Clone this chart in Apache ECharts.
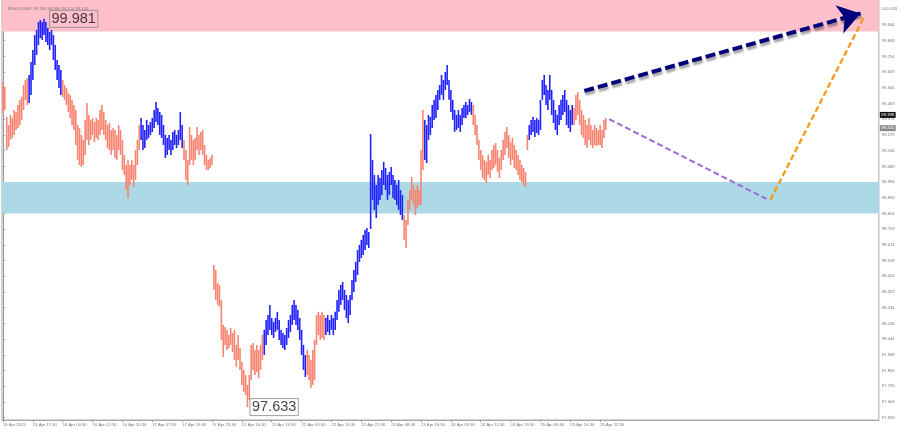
<!DOCTYPE html>
<html>
<head>
<meta charset="utf-8">
<script src="https://cdn.jsdelivr.net/npm/echarts@6/dist/echarts.min.js"></script>
<style>html,body{margin:0;padding:0;background:#fff;}#chart{width:900px;height:431px;}</style>
</head>
<body>
<div id="chart"></div>
<script>
const chartTitle = "$USDX,M30  99.350 99.380 99.310 99.320";
const xTickLabels = ["15 Apr 2025","15 Apr 17:30","16 Apr 04:30","16 Apr 12:30","16 Apr 20:30","17 Apr 07:30","17 Apr 15:30","17 Apr 23:30","21 Apr 10:30","21 Apr 18:30","22 Apr 05:30","22 Apr 13:30","22 Apr 21:30","23 Apr 08:30","23 Apr 16:30","24 Apr 03:30","24 Apr 11:30","24 Apr 19:30","25 Apr 06:30","25 Apr 14:30","25 Apr 22:30"];
const barsPerLabel = 16;
const yTickValues = [100.039,99.944,99.849,99.754,99.659,99.564,99.469,99.374,99.279,99.184,99.089,98.994,98.899,98.804,98.709,98.614,98.519,98.424,98.329,98.234,98.139,98.044,97.949,97.854,97.759,97.664,97.569];

const highs = [
99.599,99.569,99.388,99.339,99.400,99.381,99.430,99.418,99.460,99.491,99.509,99.581,99.611,99.623,
99.641,99.720,99.793,99.883,99.914,99.962,99.974,99.962,99.981,99.962,99.926,99.902,99.914,99.883,99.823,99.732,99.702,99.672,
99.611,99.581,99.563,99.533,99.521,99.491,99.460,99.430,99.339,99.321,99.279,99.249,99.370,99.472,99.400,99.370,99.381,99.357,99.381,99.370,99.430,99.460,99.418,99.370,99.339,99.351,99.309,99.321,99.309,99.279,99.339,99.309,99.249,99.158,99.097,99.128,99.097,99.128,99.097,99.188,99.249,99.339,
99.381,99.339,99.309,99.370,99.339,99.357,99.381,99.430,99.478,99.442,99.418,99.400,99.339,99.279,99.261,99.279,99.249,99.297,99.309,99.279,99.309,99.418,99.339,
99.249,99.188,99.128,99.327,99.279,99.249,99.261,99.327,99.279,99.297,99.309,99.218,99.158,99.128,99.140,99.158,
98.493,98.462,98.384,98.372,98.281,98.130,98.118,98.100,98.069,98.112,98.081,98.100,98.009,98.069,97.991,97.906,97.858,97.827,97.767,97.827,98.009,98.021,97.979,98.009,97.979,98.009,98.069,
98.100,98.160,98.190,98.251,98.172,98.148,98.172,98.209,98.160,98.100,98.081,98.069,98.112,98.160,98.190,98.251,98.281,98.251,98.221,98.172,98.100,98.009,97.948,
97.979,97.948,97.918,97.979,98.039,98.190,98.209,98.190,98.209,98.190,
98.172,98.190,98.160,98.190,98.172,98.209,98.281,98.342,98.372,98.390,98.342,98.311,98.281,98.311,98.402,98.462,98.511,98.583,98.614,98.644,98.674,98.704,98.716,98.692,
99.285,99.128,99.037,98.976,99.037,99.019,99.067,99.116,99.079,99.037,99.055,99.085,99.037,99.007,98.976,99.007,98.946,98.916,
98.795,98.765,98.886,98.946,99.025,98.976,98.946,98.976,98.946,99.188,99.430,
99.370,99.339,99.400,99.388,99.460,99.491,99.521,99.551,99.581,99.642,99.611,99.660,99.702,99.611,99.551,99.491,99.430,99.400,99.430,99.400,99.442,99.460,99.478,99.460,99.496,99.478,
99.460,99.400,99.339,99.249,99.188,99.158,99.128,99.116,99.158,99.128,99.188,99.218,99.230,99.188,99.140,99.188,99.249,99.297,99.327,99.279,99.236,99.261,99.218,99.188,99.158,99.128,99.097,99.079,99.055,99.279,
99.339,99.370,99.388,99.370,99.381,99.370,99.491,99.611,99.642,99.581,99.551,99.642,99.551,99.491,99.430,99.400,99.460,99.491,99.521,99.551,99.491,99.460,99.430,99.460,
99.442,99.521,99.539,99.491,99.430,99.400,99.370,99.339,99.381,99.339,99.309,99.339,99.321,99.309,99.339,99.309,99.370,99.381
];
const lows = [
99.412,99.430,99.188,99.206,99.249,99.261,99.279,99.309,99.321,99.339,99.370,99.430,99.491,99.460,
99.472,99.521,99.611,99.702,99.763,99.823,99.865,99.853,99.884,99.841,99.823,99.793,99.823,99.732,99.672,99.611,99.563,99.521,
99.508,99.491,99.460,99.418,99.381,99.339,99.309,99.218,99.128,99.097,99.085,99.097,99.158,99.249,99.218,99.249,99.279,99.236,99.261,99.249,99.279,99.309,99.279,99.249,99.200,99.188,99.158,99.188,99.140,99.128,99.188,99.158,99.067,99.037,98.946,98.898,98.976,99.007,98.964,99.007,99.097,99.188,
99.249,99.188,99.200,99.249,99.261,99.279,99.297,99.321,99.357,99.339,99.279,99.261,99.218,99.140,99.158,99.188,99.158,99.188,99.218,99.200,99.218,99.249,99.200,
99.128,99.007,98.976,99.097,99.128,99.097,99.128,99.188,99.158,99.188,99.158,99.097,99.067,99.067,99.079,99.097,
98.342,98.281,98.251,98.239,98.039,97.936,98.009,97.979,97.991,98.009,97.966,97.918,97.876,97.918,97.858,97.767,97.725,97.707,97.633,97.676,97.797,97.858,97.827,97.845,97.809,97.858,97.918,
97.948,98.009,98.069,98.100,98.069,98.051,98.088,98.100,98.039,98.009,97.991,97.979,98.009,98.051,98.088,98.130,98.160,98.130,98.100,98.039,97.948,97.858,97.815,
97.827,97.797,97.749,97.767,97.797,98.009,98.069,98.039,98.051,98.039,
98.069,98.088,98.069,98.100,98.069,98.100,98.160,98.209,98.251,98.281,98.221,98.172,98.142,98.190,98.281,98.329,98.390,98.432,98.511,98.535,98.553,98.583,98.614,98.595,
98.710,98.886,98.825,98.777,98.855,98.886,98.916,98.976,98.946,98.886,98.916,98.976,98.898,98.886,98.855,98.825,98.795,98.765,
98.644,98.595,98.735,98.825,98.886,98.855,98.795,98.837,98.855,98.855,99.067,
99.128,99.109,99.249,99.279,99.321,99.370,99.381,99.430,99.491,99.521,99.491,99.551,99.581,99.491,99.418,99.370,99.297,99.309,99.321,99.297,99.339,99.381,99.381,99.400,99.418,99.400,
99.339,99.279,99.218,99.128,99.067,99.019,99.007,98.988,99.037,99.019,99.067,99.079,99.097,99.055,99.019,99.067,99.128,99.158,99.200,99.140,99.097,99.128,99.079,99.067,99.037,99.007,98.995,98.976,98.964,99.188,
99.249,99.279,99.297,99.267,99.291,99.279,99.309,99.491,99.521,99.460,99.430,99.491,99.400,99.351,99.309,99.279,99.339,99.370,99.400,99.418,99.339,99.321,99.297,99.339,
99.339,99.370,99.400,99.339,99.279,99.261,99.218,99.200,99.249,99.218,99.200,99.218,99.212,99.218,99.218,99.200,99.261,99.309
];
// wave segments: number of bars and direction
const waveLengths = [14,18,42,23,43,23,10,42,11,26,30,24,18];
const waveDirs    = ["down","up","down","up","down","up","down","up","down","up","down","up","down"];

const resistanceZone = [99.904, 100.095];
const supportZone = [98.804, 98.994];
const extremes = [[22, 99.981], [131, 97.633]];
const priceTags = [99.398, 99.320];
const forecastMain = [[311.5, 99.545], [459.5, 100.014]];
const forecastAltDown = [[324.8, 99.375], [409.1, 98.892]];
const forecastAltUp = [[411.2, 98.886], [461.5, 99.995]];

const Y_MIN = 97.555, Y_MAX = 100.095;
const X_MIN = -0.53, X_MAX = 469.33;

const BLUE = '#2222ff', SALMON = '#f88470';
const dirOf = [];
waveLengths.forEach((n, k) => { for (let j = 0; j < n; j++) dirOf.push(waveDirs[k] === 'up' ? 1 : 0); });
const barData = highs.map((h, i) => [i, lows[i], h, dirOf[i]]);
const xTickValues = xTickLabels.map((_, k) => k * barsPerLabel);

const chart = echarts.init(document.getElementById('chart'), null, {renderer: 'canvas'});
const tinyFont = {fontSize: 4.2, color: '#777', fontFamily: 'Liberation Sans, Arial, sans-serif'};

chart.setOption({
  animation: false,
  backgroundColor: '#fff',
  title: {text: chartTitle, left: 3, top: 2, textStyle: Object.assign({fontWeight: 'normal'}, tinyFont)},
  grid: {left: 1, right: 18, top: 0, bottom: 11, show: true, borderColor: '#a8a8a8', borderWidth: 1, backgroundColor: 'transparent'},
  xAxis: {
    type: 'value', min: X_MIN, max: X_MAX,
    axisLine: {show: true, lineStyle: {color: '#a8a8a8'}},
    splitLine: {show: false},
    axisTick: {show: true, length: 2, customValues: xTickValues, lineStyle: {color: '#999'}},
    axisLabel: Object.assign({customValues: xTickValues, margin: 3, align: 'left',
      formatter: v => xTickLabels[Math.round(v / barsPerLabel)] || ''}, tinyFont)
  },
  yAxis: {
    type: 'value', position: 'right', min: Y_MIN, max: Y_MAX, scale: true,
    axisLine: {show: true, lineStyle: {color: '#999'}},
    splitLine: {show: false},
    axisTick: {show: true, length: 2, customValues: yTickValues, lineStyle: {color: '#999'}},
    axisLabel: Object.assign({customValues: yTickValues, margin: 3, formatter: v => v.toFixed(3)}, tinyFont)
  },
  series: [
    {
      type: 'line', data: [], z: 1, silent: true,
      markArea: {
        silent: true,
        data: [
          [{yAxis: resistanceZone[0], itemStyle: {color: '#ffc0cb'}}, {yAxis: resistanceZone[1]}],
          [{yAxis: supportZone[0], itemStyle: {color: '#add8e6'}}, {yAxis: supportZone[1]}]
        ]
      }
    },
    {
      type: 'custom', z: 2, silent: true,
      data: barData,
      encode: {x: 0, y: [1, 2]},
      renderItem: function (params, api) {
        const i = api.value(0);
        const lo = api.coord([i, api.value(1)]);
        const hi = api.coord([i, api.value(2)]);
        return {type: 'line', shape: {x1: lo[0], y1: lo[1], x2: hi[0], y2: hi[1]},
          style: {stroke: api.value(3) === 1 ? BLUE : SALMON, lineWidth: 1.6}};
      }
    },
    {
      type: 'line', data: [], z: 3, silent: true,
      markLine: {
        silent: true, animation: false,
        label: {show: false},
        emphasis: {disabled: true},
        data: [
          [{coord: forecastMain[0], symbol: 'none', lineStyle: {color: '#00007a', width: 4, type: [10, 4],
              shadowColor: 'rgba(0,0,0,0.35)', shadowBlur: 2, shadowOffsetX: 1, shadowOffsetY: 3}},
           {coord: forecastMain[1], symbol: 'arrow', symbolSize: 22}],
          [{coord: forecastAltDown[0], symbol: 'none', lineStyle: {color: '#9b6bd8', width: 2, type: [6, 3]}},
           {coord: forecastAltDown[1], symbol: 'none'}],
          [{coord: forecastAltUp[0], symbol: 'none', lineStyle: {color: '#f39c1f', width: 2.4, type: [6, 3]}},
           {coord: forecastAltUp[1], symbol: 'none'}]
        ]
      }
    },
    {
      type: 'line', data: [], z: 4, silent: true,
      markLine: {
        silent: true, symbol: 'none',
        lineStyle: {color: 'transparent', width: 0},
        data: [
          {yAxis: priceTags[0], label: Object.assign({show: true, position: 'end', distance: 1, formatter: priceTags[0].toFixed(3),
              backgroundColor: '#111', padding: [1, 1.5]}, tinyFont, {color: '#fff'})},
          {yAxis: priceTags[1], label: Object.assign({show: true, position: 'end', distance: 1, formatter: priceTags[1].toFixed(3),
              backgroundColor: '#8a8a8a', padding: [1, 1.5]}, tinyFont, {color: '#fff'})}
        ]
      }
    },
    {
      type: 'scatter', z: 5, silent: true, symbolSize: 1,
      itemStyle: {color: 'transparent'},
      data: extremes.map((p, k) => ({value: p, label: {distance: k === 0 ? 5 : 2}})),
      label: {
        show: true, position: 'right',
        formatter: p => p.value[1].toFixed(3),
        fontSize: 14.5, lineHeight: 15, color: '#111', fontFamily: 'Liberation Sans, Arial, sans-serif',
        borderColor: '#888', borderWidth: 1, padding: [1, 2, 1, 2]
      }
    }
  ]
});
</script>
</body>
</html>
